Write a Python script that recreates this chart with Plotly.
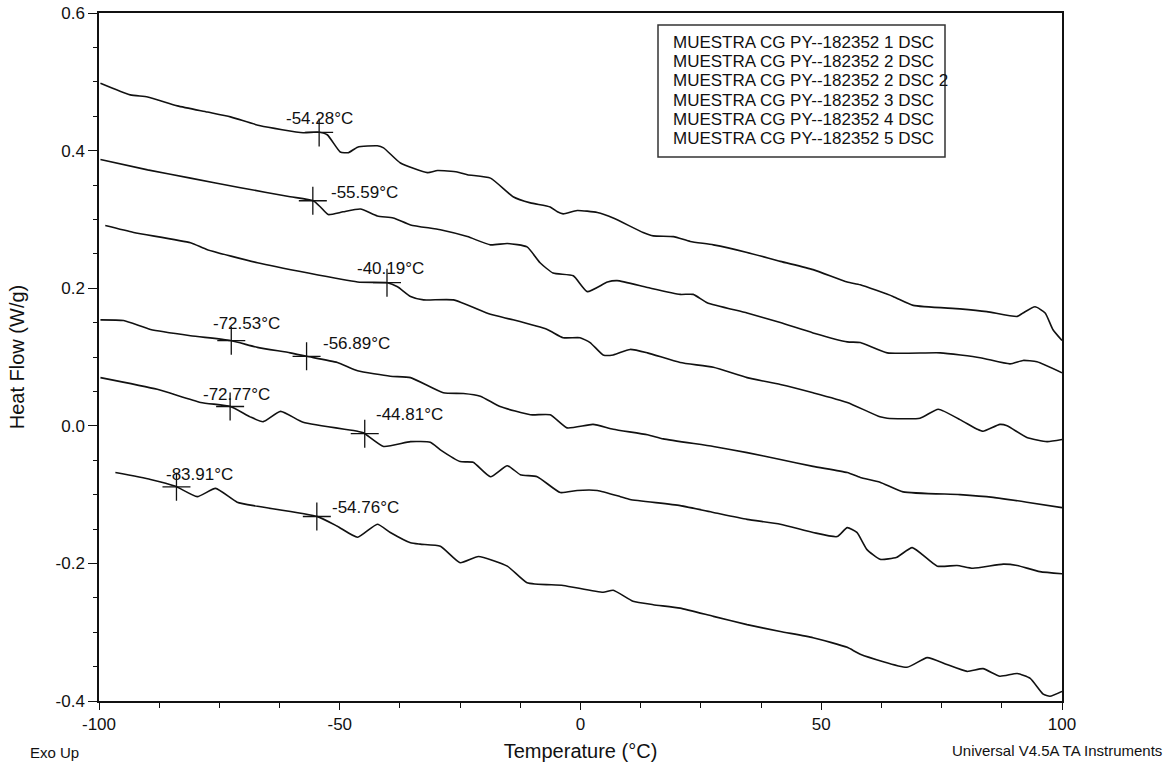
import numpy as np
import plotly.graph_objects as go

# ---------------- data ----------------
series_names = [
    "MUESTRA CG PY--182352 1 DSC",
    "MUESTRA CG PY--182352 2 DSC",
    "MUESTRA CG PY--182352 2 DSC 2",
    "MUESTRA CG PY--182352 3 DSC",
    "MUESTRA CG PY--182352 4 DSC",
    "MUESTRA CG PY--182352 5 DSC",
]

temp_1 = [-99.7, -93.5, -89.9, -83.7, -77.5, -72.7, -66.5, -57.6, -54.6, -52.6, -49.9, -48.2, -46.3, -42.2,
          -40.9, -37.4, -31.8, -29.7, -25.6, -23.5, -18.7, -14.0, -10.4, -6.3, -4.8, -3.6, -0.7, 3.5, 6.8,
          13.0, 15.1, 19.3, 22.8, 27.6, 34.6, 41.5, 48.3, 55.4, 58.1, 64.9, 69.1, 78.8, 84.4, 90.7, 91.9,
          94.4, 96.5, 98.1, 100.0]
heat_1 = [0.498, 0.481, 0.478, 0.465, 0.456, 0.449, 0.436, 0.426, 0.427, 0.423, 0.398, 0.397, 0.405, 0.407,
          0.404, 0.382, 0.368, 0.371, 0.369, 0.365, 0.360, 0.333, 0.324, 0.318, 0.311, 0.308, 0.313, 0.310,
          0.302, 0.281, 0.276, 0.275, 0.268, 0.263, 0.252, 0.239, 0.227, 0.209, 0.205, 0.188, 0.175, 0.170,
          0.166, 0.159, 0.164, 0.173, 0.164, 0.140, 0.124]

temp_2 = [-99.7, -89.9, -81.0, -70.6, -60.3, -55.5, -54.0, -52.4, -49.3, -45.7, -42.2, -38.9, -35.3, -29.1,
          -23.5, -18.7, -15.2, -11.1, -8.4, -5.7, -1.5, 1.4, 5.6, 7.6, 13.9, 20.7, 23.4, 26.3, 34.6, 41.5,
          48.3, 55.4, 58.1, 63.7, 74.7, 83.0, 89.2, 91.9, 94.8, 100.0]
heat_2 = [0.387, 0.372, 0.360, 0.346, 0.333, 0.327, 0.318, 0.307, 0.311, 0.315, 0.305, 0.302, 0.292, 0.285,
          0.275, 0.263, 0.265, 0.260, 0.237, 0.222, 0.218, 0.195, 0.209, 0.211, 0.201, 0.191, 0.191, 0.179,
          0.164, 0.150, 0.135, 0.122, 0.121, 0.106, 0.106, 0.099, 0.090, 0.095, 0.093, 0.077]

temp_3 = [-98.7, -92.8, -81.0, -77.5, -67.1, -46.3, -40.1, -38.0, -35.3, -32.6, -26.4, -18.7, -14.0, -6.9,
          -3.6, -0.1, 2.0, 4.7, 6.8, 10.3, 13.9, 20.7, 27.6, 34.6, 41.5, 48.3, 55.4, 62.2, 63.7, 70.5, 74.3,
          78.8, 82.4, 83.6, 87.1, 88.6, 92.7, 96.9, 100.0]
heat_3 = [0.291, 0.281, 0.266, 0.256, 0.237, 0.209, 0.208, 0.202, 0.188, 0.183, 0.183, 0.162, 0.154, 0.140,
          0.128, 0.128, 0.121, 0.103, 0.103, 0.111, 0.106, 0.092, 0.085, 0.070, 0.060, 0.048, 0.034, 0.013,
          0.011, 0.011, 0.024, 0.009, -0.005, -0.008, 0.002, 0.000, -0.017, -0.023, -0.020]

temp_4 = [-99.7, -94.9, -89.3, -81.0, -72.7, -67.1, -60.3, -56.9, -50.5, -46.3, -39.5, -35.3, -28.5, -24.3,
          -20.8, -16.7, -10.4, -6.3, -2.8, 2.6, 6.8, 13.9, 17.2, 27.6, 34.6, 41.5, 48.3, 55.4, 58.1, 62.2,
          67.0, 78.8, 85.7, 92.7, 100.0]
heat_4 = [0.154, 0.153, 0.140, 0.131, 0.124, 0.114, 0.106, 0.101, 0.092, 0.080, 0.072, 0.070, 0.048, 0.047,
          0.043, 0.028, 0.016, 0.016, -0.003, 0.002, -0.005, -0.013, -0.019, -0.030, -0.039, -0.049, -0.059,
          -0.068, -0.075, -0.082, -0.096, -0.100, -0.104, -0.111, -0.119]

temp_5 = [-99.7, -87.9, -78.9, -72.7, -68.6, -65.9, -62.3, -57.6, -46.3, -45.1, -40.9, -35.3, -31.2, -29.1,
          -25.0, -22.3, -18.7, -15.2, -12.5, -9.0, -4.2, -0.7, 3.5, 8.3, 10.3, 20.7, 27.6, 34.6, 41.5, 48.3,
          53.3, 55.4, 57.4, 59.5, 62.2, 65.7, 68.9, 74.1, 78.2, 81.5, 87.8, 90.7, 95.4, 100.0]
heat_5 = [0.070, 0.053, 0.034, 0.028, 0.013, 0.006, 0.021, 0.005, -0.008, -0.010, -0.030, -0.023, -0.024,
          -0.035, -0.052, -0.053, -0.074, -0.058, -0.071, -0.074, -0.097, -0.094, -0.094, -0.103, -0.107,
          -0.116, -0.126, -0.136, -0.143, -0.155, -0.161, -0.148, -0.155, -0.180, -0.194, -0.191, -0.177,
          -0.204, -0.203, -0.207, -0.201, -0.203, -0.212, -0.215]

temp_6 = [-96.6, -89.3, -84.1, -79.6, -75.8, -71.3, -67.1, -54.6, -50.5, -46.3, -42.2, -39.5, -35.3, -33.3,
          -29.1, -25.0, -21.2, -15.2, -11.1, -3.6, 4.7, 6.8, 10.9, 15.1, 20.7, 27.6, 34.6, 41.5, 48.3, 55.4,
          58.1, 67.8, 72.0, 76.1, 80.3, 83.6, 87.1, 90.7, 93.4, 96.1, 97.5, 100.0]
heat_6 = [-0.068, -0.078, -0.088, -0.103, -0.091, -0.111, -0.117, -0.132, -0.146, -0.162, -0.143, -0.155,
          -0.170, -0.172, -0.175, -0.199, -0.190, -0.204, -0.228, -0.232, -0.242, -0.239, -0.255, -0.260,
          -0.265, -0.277, -0.289, -0.299, -0.308, -0.322, -0.332, -0.351, -0.337, -0.347, -0.357, -0.353,
          -0.364, -0.360, -0.367, -0.390, -0.393, -0.386]

# glass-transition markers (temperatures in °C) per curve
marks_1 = [-54.28]
marks_2 = [-55.59]
marks_3 = [-40.19]
marks_4 = [-72.53, -56.89]
marks_5 = [-72.77, -44.81]
marks_6 = [-83.91, -54.76]

x_tick_vals = [-100, -50, 0, 50, 100]
x_tick_text = ["-100", "-50", "0", "50", "100"]
y_tick_vals = [-0.4, -0.2, 0.0, 0.2, 0.4, 0.6]
y_tick_text = ["-0.4", "-0.2", "0.0", "0.2", "0.4", "0.6"]

temps = [temp_1, temp_2, temp_3, temp_4, temp_5, temp_6]
heats = [heat_1, heat_2, heat_3, heat_4, heat_5, heat_6]
marks = [marks_1, marks_2, marks_3, marks_4, marks_5, marks_6]

# ---------------- style / layout ----------------
FONT = "Arial, 'Liberation Sans', sans-serif"
INK = "#111111"
W, H = 1172, 770
ML, MR, MT, MB = 99, 110, 13, 69
PW, PH = W - ML - MR, H - MT - MB


def px_x(px):
    return (px - ML) / PW


def px_y(py):
    return (H - MB - py) / PH


# label offsets in pixels (xshift, yshift, xanchor) per marker, same order as marks
label_style = [
    [(0, 14, "center")],
    [(16, 8, "left")],
    [(-32, 14, "left")],
    [(15, 17, "center"), (14, 13, "left")],
    [(6, 12, "center"), (9, 19, "left")],
    [(23, 12, "center"), (13, 9, "left")],
]

fig = go.Figure()
annotations = []

for name, t, h, mk, ls in zip(series_names, temps, heats, marks, label_style):
    fig.add_trace(go.Scatter(
        x=t, y=h, mode="lines", name=name, showlegend=False,
        line=dict(color=INK, width=1.6, shape="spline", smoothing=0.5),
    ))
    my = list(np.interp(mk, t, h))
    fig.add_trace(go.Scatter(
        x=mk, y=my, mode="markers", showlegend=False, hoverinfo="skip",
        marker=dict(symbol="cross-thin", size=20, line=dict(color=INK, width=1.3)),
    ))
    for tx, ty, (xs, ys, xa) in zip(mk, my, ls):
        annotations.append(dict(
            x=tx, y=ty, xref="x", yref="y", text=f"{tx:.2f}°C", showarrow=False,
            xshift=xs, yshift=ys, xanchor=xa, yanchor="middle",
            font=dict(family=FONT, size=17, color=INK),
        ))

# legend box built from text lines
leg_top = 42.3
leg_step = 19.3
for i, name in enumerate(series_names):
    annotations.append(dict(
        x=px_x(671), y=px_y(leg_top + i * leg_step), xref="paper", yref="paper",
        text=name, showarrow=False, xanchor="left", yanchor="middle",
        font=dict(family=FONT, size=17, color=INK),
    ))

annotations.append(dict(
    x=px_x(28), y=px_y(752), xref="paper", yref="paper", text="Exo Up", showarrow=False,
    xanchor="left", yanchor="middle", font=dict(family=FONT, size=15, color=INK),
))
annotations.append(dict(
    x=px_x(1164), y=px_y(750), xref="paper", yref="paper", text="Universal V4.5A TA Instruments",
    showarrow=False, xanchor="right", yanchor="middle", font=dict(family=FONT, size=15, color=INK),
))

shapes = [dict(
    type="rect", xref="paper", yref="paper",
    x0=px_x(658), x1=px_x(945), y0=px_y(157), y1=px_y(25),
    line=dict(color="#333333", width=1.5), fillcolor="rgba(255,255,255,0)",
)]

fig.update_layout(
    width=W, height=H,
    margin=dict(l=ML, r=MR, t=MT, b=MB, autoexpand=False),
    paper_bgcolor="white", plot_bgcolor="white",
    font=dict(family=FONT, color=INK),
    annotations=annotations, shapes=shapes,
    showlegend=False,
)

fig.update_xaxes(
    range=[-100, 100], tickmode="array", tickvals=x_tick_vals, ticktext=x_tick_text,
    showgrid=False, zeroline=False, showline=True, mirror=True, linecolor=INK, linewidth=1.5,
    ticks="outside", ticklen=7, tickwidth=1, tickcolor=INK, automargin=False,
    tickfont=dict(family=FONT, size=17, color=INK),
    minor=dict(tick0=-100, dtick=12.5, ticks="outside", ticklen=5, tickcolor=INK, showgrid=False),
    title=dict(text="Temperature (°C)", font=dict(family=FONT, size=20, color=INK), standoff=11),
)
fig.update_yaxes(
    range=[-0.4, 0.6], tickmode="array", tickvals=y_tick_vals, ticktext=y_tick_text,
    showgrid=False, zeroline=False, showline=True, mirror=True, linecolor=INK, linewidth=1.5,
    ticks="outside", ticklen=9, tickwidth=1, tickcolor=INK, automargin=False,
    tickfont=dict(family=FONT, size=17, color=INK),
    minor=dict(tick0=-0.4, dtick=0.05, ticks="outside", ticklen=4, tickcolor=INK, showgrid=False),
    title=dict(text="Heat Flow (W/g)", font=dict(family=FONT, size=20, color=INK), standoff=26),
)

fig.write_html(
    "out.html",
    config={"displayModeBar": False},
    post_script="document.body.style.margin='0';",
)
